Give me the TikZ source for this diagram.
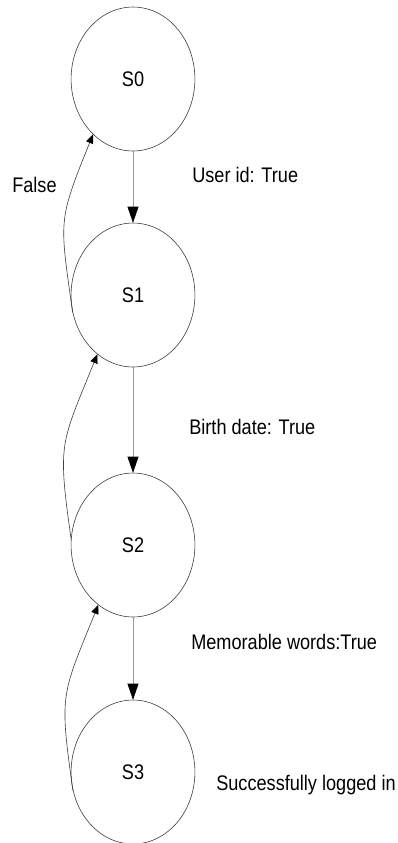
\documentclass[tikz,border=0pt]{standalone}
\usepackage{fontspec}
\setmainfont{Liberation Sans}
\usetikzlibrary{shapes.geometric,arrows.meta}
\begin{document}
\begin{tikzpicture}[x=0.02cm,y=-0.02cm,
    state/.style={draw=black!75,line width=0.35pt,circle,minimum size=2.88cm,inner sep=0pt,
      xscale=0.86,font=\fontsize{12}{14}\selectfont},
    txt/.style={font=\fontsize{12}{14}\selectfont,xscale=0.86,inner sep=0pt,anchor=west},
    fwd/.style={draw=gray!80,line width=0.35pt,-{Triangle[black,length=0.32cm,width=0.22cm]}},
    back/.style={draw=black!75,line width=0.35pt,-{Triangle[black,length=0.18cm,width=0.15cm]}}]
  \useasboundingbox (0,0) rectangle (397,843);
  \draw
    (133,79) node[state] (s0){S0}
    (133,295) node[state] (s1){S1}
    (133,545) node[state] (s2){S2}
    (133,772) node[state] (s3){S3};
  \draw
    (12,185) node[txt] (false){False}
    (192,175) node[txt] (userid){User id: True}
    (189,427) node[txt] (birth){Birth date: True}
    (191,642) node[txt] (words){Memorable words:True}
    (216,785) node[txt] (done){Successfully logged in};
  \begin{scope}
    \draw[fwd] (s0) -- (s1);
    \draw[fwd] (s1) -- (s2);
    \draw[fwd] (s2) -- (s3);
    \draw[back] (s1.194) to[out=98,in=248,looseness=1.35] (s0.230);
    \draw[back] (s2.175) to[out=98,in=248,looseness=1.35] (s1.235);
    \draw[back] (s3.195) to[out=98,in=248,looseness=1.35] (s2.236);
  \end{scope}
\end{tikzpicture}
\end{document}
